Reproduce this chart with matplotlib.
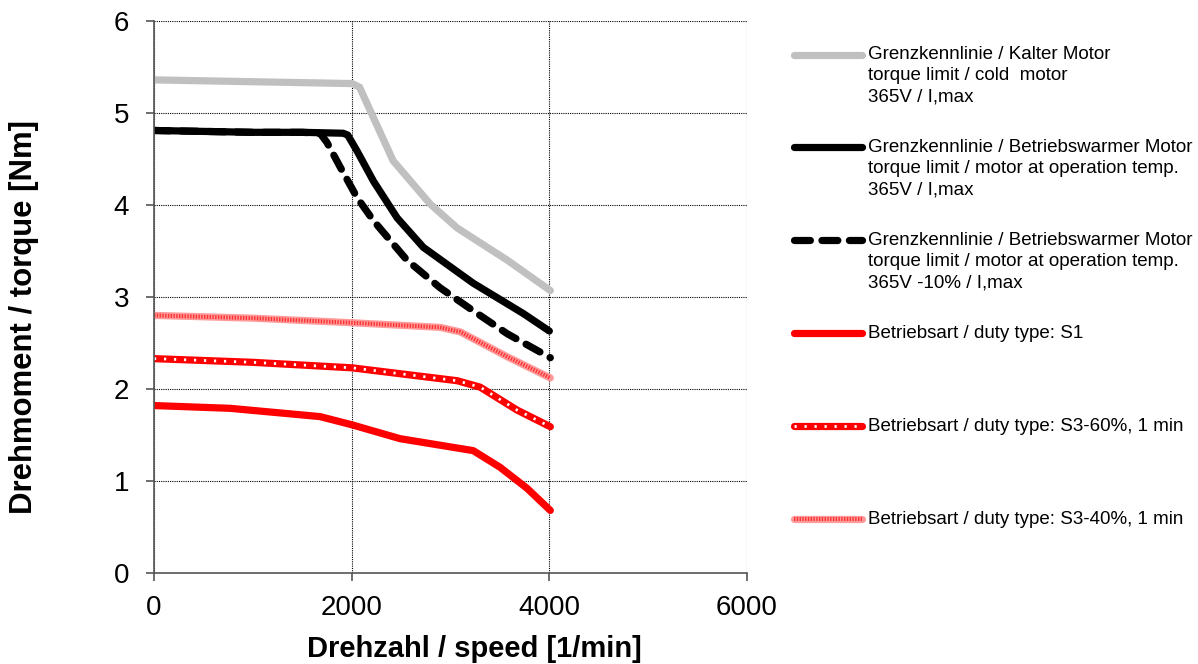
import numpy as np
import matplotlib.pyplot as plt
from matplotlib.legend_handler import HandlerLine2D, HandlerTuple

plt.rcParams['font.family'] = ['Liberation Sans', 'DejaVu Sans']

# Grenzkennlinie kalter Motor
x_cold = [0, 500, 1000, 1500, 2005, 2080, 2220, 2420, 2795, 3068, 3575, 4010]
y_cold = [5.36, 5.35, 5.34, 5.33, 5.32, 5.28, 4.95, 4.48, 4.01, 3.75, 3.40, 3.07]

# Grenzkennlinie betriebswarmer Motor
x_warm = [0, 500, 1000, 1500, 1914, 1960, 2053, 2220, 2460, 2725, 3230, 3737, 4000]
y_warm = [4.81, 4.80, 4.79, 4.79, 4.78, 4.76, 4.59, 4.26, 3.86, 3.54, 3.15, 2.82, 2.63]

# Grenzkennlinie betriebswarmer Motor, 365V -10%
x_warm10 = [0, 500, 1000, 1500, 1680, 1750, 1885, 2055, 2220, 2560, 2895, 3230, 3575, 4010]
y_warm10 = [4.81, 4.80, 4.79, 4.79, 4.78, 4.68, 4.41, 4.08, 3.83, 3.40, 3.10, 2.85, 2.60, 2.34]

# S1
x_s1 = [0, 770, 1680, 2005, 2490, 3230, 3500, 3775, 4010]
y_s1 = [1.82, 1.79, 1.70, 1.61, 1.46, 1.33, 1.15, 0.92, 0.68]

# S3-60%
x_s360 = [0, 1000, 2005, 3068, 3300, 3675, 4010]
y_s360 = [2.33, 2.29, 2.23, 2.09, 2.02, 1.77, 1.59]

# S3-40%
x_s340 = [0, 1000, 2005, 2895, 3100, 3575, 4010]
y_s340 = [2.80, 2.77, 2.72, 2.67, 2.62, 2.35, 2.12]

labels = [
    'Grenzkennlinie / Kalter Motor\ntorque limit / cold  motor\n365V / I,max',
    'Grenzkennlinie / Betriebswarmer Motor\ntorque limit / motor at operation temp.\n365V / I,max',
    'Grenzkennlinie / Betriebswarmer Motor\ntorque limit / motor at operation temp.\n365V -10% / I,max',
    'Betriebsart / duty type: S1\n \n ',
    'Betriebsart / duty type: S3-60%, 1 min\n \n ',
    'Betriebsart / duty type: S3-40%, 1 min\n \n ',
]

SHIFT = 2.26


class TopHandler(HandlerLine2D):
    # put the legend sample at the first text line
    def create_artists(self, legend, orig_handle, xdescent, ydescent,
                       width, height, fontsize, trans):
        return super().create_artists(legend, orig_handle, xdescent,
                                      ydescent - SHIFT * fontsize,
                                      width, height, fontsize, trans)


class TopTuple(HandlerTuple):
    def create_artists(self, legend, orig_handle, xdescent, ydescent,
                       width, height, fontsize, trans):
        return super().create_artists(legend, orig_handle, xdescent,
                                      ydescent - SHIFT * fontsize,
                                      width, height, fontsize, trans)


fig = plt.figure(figsize=(11.98, 6.64), dpi=100)
ax = fig.add_axes([154 / 1198, 1 - 573 / 664, (747 - 154) / 1198, (573 - 21) / 664])

lw = 5.2
l1, = ax.plot(x_cold, y_cold, color='#c0c0c0', lw=lw, solid_capstyle='round', solid_joinstyle='round')
l2, = ax.plot(x_warm, y_warm, color='black', lw=lw, solid_capstyle='round', solid_joinstyle='round')
l3, = ax.plot(x_warm10, y_warm10, color='black', lw=lw, ls=(0, (2.2, 1.6)),
              dash_capstyle='round', solid_joinstyle='round')
l4, = ax.plot(x_s1, y_s1, color='#ff0000', lw=lw, solid_capstyle='round', solid_joinstyle='round')
l5a, = ax.plot(x_s360, y_s360, color='#ff0000', lw=lw, solid_capstyle='round', solid_joinstyle='round')
l5b, = ax.plot(x_s360, y_s360, color='white', lw=2.0, ls=(0, (0.8, 2.8)))
l6a, = ax.plot(x_s340, y_s340, color='#ff9a9a', lw=lw, solid_capstyle='round', solid_joinstyle='round')
l6b, = ax.plot(x_s340, y_s340, color='#ff3030', lw=lw * 0.55, ls=(0, (0.35, 0.35)))

ax.set_xlim(0, 6000)
ax.set_ylim(0, 6)
ax.set_xticks([0, 2000, 4000, 6000])
ax.set_yticks([0, 1, 2, 3, 4, 5, 6])
ax.grid(True, color='black', ls=(0, (1, 1)), lw=0.8)
for s in ['top', 'right']:
    ax.spines[s].set_visible(False)
for s in ['left', 'bottom']:
    ax.spines[s].set_color('#555555')
    ax.spines[s].set_linewidth(1.2)
ax.tick_params(direction='out', length=6, width=1.2, color='#555555',
               labelsize=20)
ax.tick_params(axis='y', pad=12)
ax.tick_params(axis='x', pad=10)
ax.set_xlabel('Drehzahl / speed [1/min]', fontsize=21, fontweight='bold', labelpad=10, x=0.541)
ax.set_ylabel('Drehmoment / torque [Nm]', fontsize=22.4, fontweight='bold', labelpad=54, y=0.464)

leg = ax.legend([l1, l2, l3, l4, (l5a, l5b), (l6a, l6b)], labels,
                loc='upper left', bbox_to_anchor=(785 / 1198, 1 - 37 / 664),
                bbox_transform=fig.transFigure, frameon=False, fontsize=13.5,
                handlelength=3.6, handletextpad=0.35, labelspacing=1.82,
                borderpad=0, handler_map={l1: TopHandler(), l2: TopHandler(), l3: TopHandler(),
                             l4: TopHandler(), tuple: TopTuple(ndivide=1, pad=0)})
for t in leg.get_texts():
    t.set_linespacing(1.3)

fig.savefig('out.png', dpi=100)
